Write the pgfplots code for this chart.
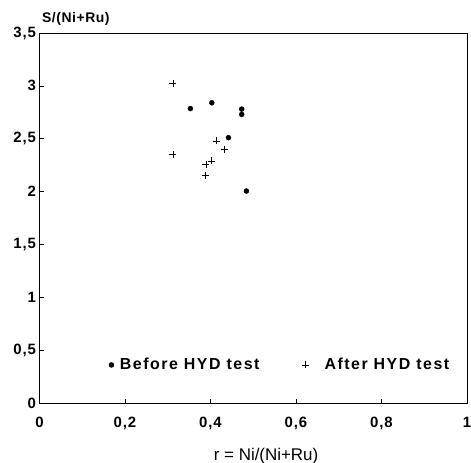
\documentclass[border=0pt]{standalone}
\usepackage{pgfplots}
\pgfplotsset{compat=1.18}
\usepackage{fontspec}
\setmainfont{Liberation Sans}
\pgfplotsset{
  dotlegend/.style={legend image code/.code={\draw[##1] plot coordinates {(0cm,0cm)};}},
  pluslegend/.style={legend image code/.code={\draw[##1] plot coordinates {(0cm,0cm)}; \path (-3.5bp,0) (13bp,0);}},
}

\begin{document}
\begin{tikzpicture}
\begin{axis}[
  scale only axis,
  width=427.5bp, height=370bp,
  xmin=0, xmax=1, ymin=0, ymax=3.5,
  xtick={0,0.2,0.4,0.6,0.8,1},
  ytick={0,0.5,1,1.5,2,2.5,3,3.5},
  tick pos=left,
  tick align=inside,
  major tick length=4bp,
  tick style={black, line width=0.5pt},
  axis line style={black, line width=0.6pt},
  /pgf/number format/assume math mode=true,
  /pgf/number format/use comma,
  ticklabel style={font=\fontsize{15}{15}\selectfont\bfseries\addfontfeatures{LetterSpace=6}},
  xticklabel style={yshift=-11bp},
  xlabel={r = Ni/(Ni+Ru)},
  xlabel style={font=\fontsize{17}{17}\selectfont, at={(rel axis cs:0.53,0)}, anchor=north, yshift=-42bp},
  ylabel={S/(Ni+Ru)},
  ylabel style={font=\fontsize{14}{14}\selectfont\bfseries\addfontfeatures{LetterSpace=4}, rotate=-90, at={(rel axis cs:0,1)}, anchor=south west, yshift=4bp, xshift=-1bp},
  clip=false,
  legend columns=2,
  legend cell align=left,
  legend style={at={(axis cs:0.155,0.36)}, anchor=west, draw=none, fill=none,
    font=\fontsize{16}{16}\selectfont\bfseries\addfontfeatures{LetterSpace=9.5},
    /tikz/every odd column/.append style={column sep=4bp},
    /tikz/every even column/.append style={column sep=40bp}},
]
\coordinate (sw) at (rel axis cs:0,0);
\addplot[only marks, mark=*, mark size=2.5bp, black, dotlegend] coordinates {
  (0.353,2.785) (0.403,2.84) (0.473,2.78) (0.473,2.73) (0.442,2.51) (0.484,2.005)
};
\addlegendentry{Before HYD test}
\addplot[only marks, mark=+, mark size=3.5bp, black, line width=0.6pt, pluslegend] coordinates {
  (0.312,3.02) (0.312,2.35) (0.413,2.48) (0.432,2.40) (0.402,2.29) (0.389,2.26) (0.388,2.155)
};
\addlegendentry{After HYD test}
\end{axis}
\pgfresetboundingbox
\path[use as bounding box] ([shift={(-39.5bp,-60bp)}]sw) rectangle ([shift={(431.5bp,403bp)}]sw);
\end{tikzpicture}
\end{document}
